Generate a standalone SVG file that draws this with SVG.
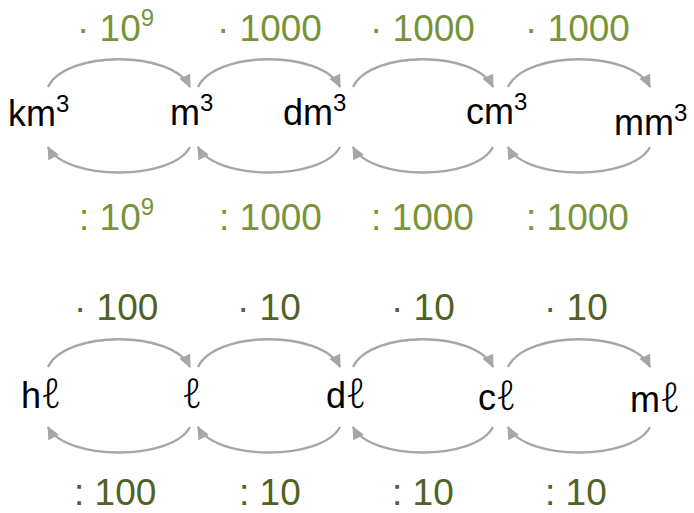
<svg xmlns="http://www.w3.org/2000/svg" width="694" height="513" viewBox="0 0 694 513">
<defs>
<marker id="ah" markerWidth="14" markerHeight="12" refX="12" refY="6" orient="auto" markerUnits="userSpaceOnUse">
<path d="M0,0 L13,6 L0,12 Z" fill="#A6A6A6"/>
</marker>
<style>
.arc{fill:none;stroke:#A6A6A6;stroke-width:2.3;marker-end:url(#ah)}
.u{font-family:"Liberation Sans",Arial,sans-serif;font-size:36px;fill:#000}
.s{font-size:24px}
.g1{font-family:"Liberation Sans",Arial,sans-serif;font-size:37px;fill:#77933C}
.g2{font-family:"Liberation Sans",Arial,sans-serif;font-size:37px;fill:#4F6228}
.l{font-family:"Noto Sans","DejaVu Sans",sans-serif;font-weight:300;font-style:italic;font-size:41px}
</style>
</defs>
<g id="connectors">
<path class="arc" d="M48,87 C66,50 172,50 190,87"/>
<path class="arc" d="M198,87 C216,50 322,50 340,87"/>
<path class="arc" d="M353,87 C371,50 475,50 493,87"/>
<path class="arc" d="M508,87 C526,50 632,50 650,87"/>
<path class="arc" d="M190,147 C172,181 66,181 48,147"/>
<path class="arc" d="M340,147 C322,181 216,181 198,147"/>
<path class="arc" d="M493,147 C475,181 371,181 353,147"/>
<path class="arc" d="M650,147 C632,181 526,181 508,147"/>
<path class="arc" d="M48,367 C66,330 172,330 190,367"/>
<path class="arc" d="M198,367 C216,330 322,330 340,367"/>
<path class="arc" d="M353,367 C371,330 475,330 493,367"/>
<path class="arc" d="M508,367 C526,330 632,330 650,367"/>
<path class="arc" d="M190,427 C172,461 66,461 48,427"/>
<path class="arc" d="M340,427 C322,461 216,461 198,427"/>
<path class="arc" d="M493,427 C475,461 371,461 353,427"/>
<path class="arc" d="M650,427 C632,461 526,461 508,427"/>
</g>
<g id="labels">
<text class="g1" x="77" y="41">· 10<tspan class="s" dy="-15">9</tspan></text>
<text class="g1" x="217" y="41">· 1000</text>
<text class="g1" x="370" y="41">· 1000</text>
<text class="g1" x="525" y="41">· 1000</text>
<text class="g1" x="79" y="230">: 10<tspan class="s" dy="-15">9</tspan></text>
<text class="g1" x="219" y="230">: 1000</text>
<text class="g1" x="371" y="230">: 1000</text>
<text class="g1" x="526" y="230">: 1000</text>
<text class="g2" x="74" y="320">· 100</text>
<text class="g2" x="237" y="320">· 10</text>
<text class="g2" x="391" y="320">· 10</text>
<text class="g2" x="544" y="320">· 10</text>
<text class="g2" x="74" y="505">: 100</text>
<text class="g2" x="239" y="505">: 10</text>
<text class="g2" x="392" y="505">: 10</text>
<text class="g2" x="545" y="505">: 10</text>
</g>
<g id="km3"><text class="u" x="8" y="126">km<tspan class="s" dy="-14">3</tspan></text></g>
<g id="m3"><text class="u" x="170" y="125">m<tspan class="s" dy="-14">3</tspan></text></g>
<g id="dm3"><text class="u" x="283" y="125">dm<tspan class="s" dy="-14">3</tspan></text></g>
<g id="cm3"><text class="u" x="466" y="124">cm<tspan class="s" dy="-14">3</tspan></text></g>
<g id="mm3"><text class="u" x="614" y="135">mm<tspan class="s" dy="-14">3</tspan></text></g>
<g id="hl"><text class="u" x="21" y="408">h<tspan class="l">ℓ</tspan></text></g>
<g id="l"><text class="u" x="182" y="408"><tspan class="l">ℓ</tspan></text></g>
<g id="dl"><text class="u" x="326" y="408">d<tspan class="l">ℓ</tspan></text></g>
<g id="cl"><text class="u" x="478" y="410">c<tspan class="l">ℓ</tspan></text></g>
<g id="ml"><text class="u" x="630" y="412">m<tspan class="l">ℓ</tspan></text></g>
</svg>
